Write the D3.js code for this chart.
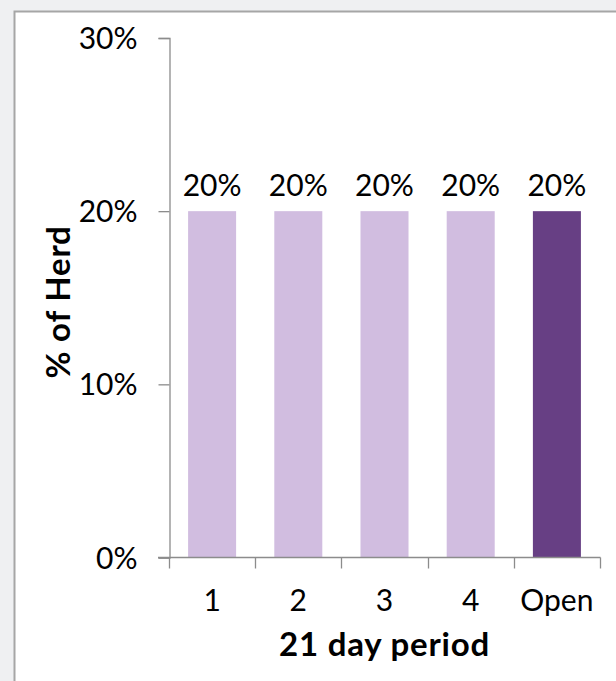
<!DOCTYPE html>
<html>
<head>
<meta charset="utf-8">
<script src="https://cdn.jsdelivr.net/npm/d3@7"></script>
<style>
    html, body { margin: 0; padding: 0; background: #eff0f2; }
    svg { display: block; }
    text { font-family: Lato, "Open Sans", sans-serif; fill: #000; }
</style>
</head>
<body>
<div id="chart"></div>
<script>
// chart values
var categories = ['1', '2', '3', '4', 'Open'];
var values = [0.2, 0.2, 0.2, 0.2, 0.2];
var yTicks = [0, 0.1, 0.2, 0.3];
var barColors = ['#d1bde0', '#d1bde0', '#d1bde0', '#d1bde0', '#673f84'];

var width = 616,
    height = 681;

var svg = d3
    .select('#chart')
    .append('svg')
    .attr('width', width)
    .attr('height', height);

// white panel with grey border, runs off right and bottom
svg.append('rect')
    .attr('x', 14.5)
    .attr('y', 11.5)
    .attr('width', width)
    .attr('height', height)
    .attr('fill', '#fff')
    .attr('stroke', '#a6a6a6')
    .attr('stroke-width', 2);

var x = d3.scaleBand()
    .domain(categories)
    .range([169, 600])
    .paddingInner(0.443)
    .paddingOuter(0.2215);

var y = d3.scaleLinear()
    .domain([0, 0.3])
    .range([557.5, 38]);

var axisColor = '#8c8c8c';

// y axis
var yAxis = svg.append('g')
    .attr('transform', 'translate(169.5,0)')
    .call(d3.axisLeft(y).tickValues(yTicks).tickSize(11).tickPadding(21).tickFormat(d3.format('.0%')));
yAxis.select('.domain').attr('stroke', axisColor).attr('stroke-width', 1.3);
yAxis.selectAll('.tick line').attr('stroke', axisColor).attr('stroke-width', 1.3);
yAxis.selectAll('.tick text')
    .style('font-size', '30px')
    .attr('dy', '0.35em');

// bars
svg.append('g')
    .selectAll('rect')
    .data(values)
    .enter()
    .append('rect')
    .attr('x', function (d, i) { return x(categories[i]); })
    .attr('y', function (d) { return y(d); })
    .attr('width', x.bandwidth())
    .attr('height', function (d) { return y(0) - y(d); })
    .attr('fill', function (d, i) { return barColors[i]; });

// value labels
svg.append('g')
    .selectAll('text')
    .data(values)
    .enter()
    .append('text')
    .attr('x', function (d, i) { return x(categories[i]) + x.bandwidth() / 2; })
    .attr('y', function (d) { return y(d) - 15; })
    .attr('text-anchor', 'middle')
    .style('font-size', '30px')
    .text(function (d) { return d3.format('.0%')(d); });

// x axis: ticks sit on band edges
var xg = svg.append('g').attr('transform', 'translate(0,' + y(0) + ')');
xg.append('line')
    .attr('x1', 158).attr('x2', 600.5)
    .attr('stroke', axisColor).attr('stroke-width', 1.5);
var edges = categories.map(function (c) { return x(c) - x.step() * x.paddingInner() / 2; });
edges.push(600);
xg.selectAll('line.tk')
    .data(edges)
    .enter()
    .append('line')
    .attr('class', 'tk')
    .attr('x1', function (d) { return Math.round(d) + 0.5; })
    .attr('x2', function (d) { return Math.round(d) + 0.5; })
    .attr('y1', 0)
    .attr('y2', 11)
    .attr('stroke', axisColor)
    .attr('stroke-width', 1.3);
xg.selectAll('text')
    .data(categories)
    .enter()
    .append('text')
    .attr('x', function (d) { return x(d) + x.bandwidth() / 2; })
    .attr('y', 53)
    .attr('text-anchor', 'middle')
    .style('font-size', '30px')
    .text(function (d) { return d; });

// axis titles
svg.append('text')
    .attr('x', 384.5)
    .attr('y', 656)
    .attr('text-anchor', 'middle')
    .style('font-size', '33px')
    .style('font-weight', 'bold')
    .style('letter-spacing', '0.8px')
    .text('21 day period');

svg.append('text')
    .attr('transform', 'translate(70,302) rotate(-90)')
    .attr('text-anchor', 'middle')
    .style('font-size', '33px')
    .style('font-weight', 'bold')
    .style('letter-spacing', '0.8px')
    .text('% of Herd');
</script>
</body>
</html>
